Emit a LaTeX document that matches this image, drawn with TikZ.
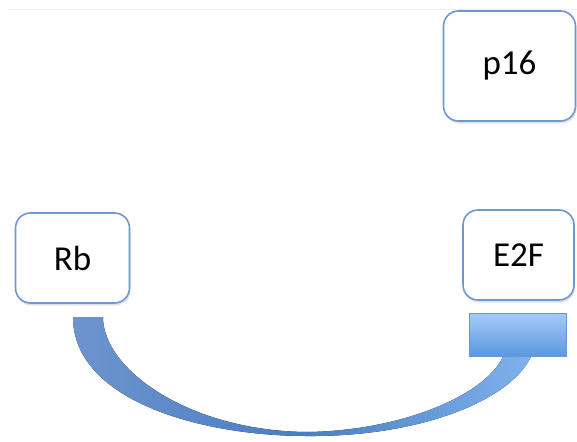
\documentclass[tikz,border=0pt]{standalone}
\usepackage{fontspec}
\setmainfont{Carlito}
\usetikzlibrary{shadows}
\definecolor{boxline}{RGB}{112,152,208}
\definecolor{bandL}{RGB}{110,148,205}
\definecolor{bandM}{RGB}{72,126,196}
\definecolor{bandR}{RGB}{128,178,236}
\definecolor{barT}{RGB}{165,203,246}
\definecolor{barB}{RGB}{92,152,226}
\definecolor{barline}{RGB}{100,152,215}
\tikzset{
  genebox/.style={draw=boxline, line width=1.6pt, fill=white, rounded corners=15pt,
    font=\fontsize{35}{38}\selectfont, inner sep=0pt,
    drop shadow={opacity=0.22, shadow xshift=1pt, shadow yshift=-2.5pt}},
  inhibbar/.style={draw=barline, line width=0.6pt, top color=barT, bottom color=barB, inner sep=0pt}
}
\begin{document}
\begin{tikzpicture}[x=1pt,y=-1pt]
\useasboundingbox (0,0) rectangle (577,441);
\draw[gray!12, line width=0.8pt] (8,9) -- (577,9);
\node[genebox, minimum width=132pt, minimum height=110pt] (p16) at (509.5,66) {p16};
\node[genebox, minimum width=114pt, minimum height=90pt] (rb) at (72.5,258) {Rb};
\node[genebox, minimum width=111pt, minimum height=90pt] (e2f) at (518.5,255) {E2F};
% curved inhibition band
\fill[left color=bandL, right color=bandR, middle color=bandM]
  (73,317) .. controls (73,400) and (200,436) .. (307,436)
  .. controls (420,437) and (515,400) .. (533,352)
  -- (505,352)
  .. controls (490,395) and (400,431) .. (307,432)
  .. controls (190,431) and (103,370) .. (103,317) -- cycle;
\node[inhibbar, minimum width=97pt, minimum height=43pt] (bar) at (517.5,334.5) {};
\end{tikzpicture}
\end{document}
